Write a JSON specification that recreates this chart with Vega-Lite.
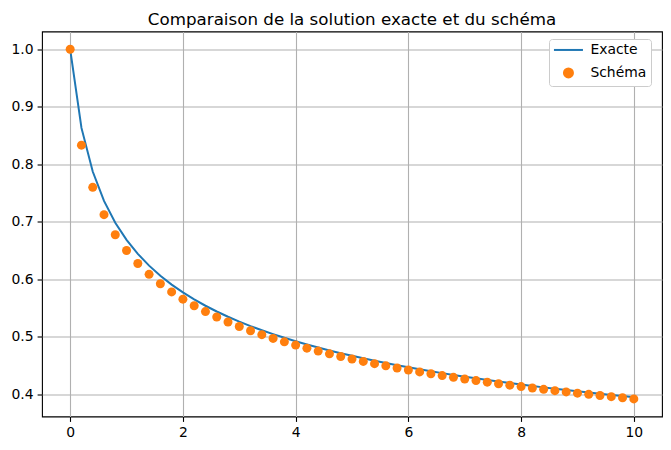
{
  "$schema": "https://vega.github.io/schema/vega-lite/v6.json",
  "width": 620,
  "height": 385,
  "autosize": "none",
  "padding": {"left": 42, "top": 31.5, "right": 9, "bottom": 33.5},
  "background": "white",
  "title": {
    "text": "Comparaison de la solution exacte et du schéma",
    "font": "DejaVu Sans",
    "fontSize": 16.7,
    "fontWeight": "normal",
    "color": "black",
    "anchor": "middle",
    "frame": "group",
    "baseline": "alphabetic",
    "offset": 8,
    "dy": 18
  },
  "config": {
    "view": {"stroke": "black", "strokeWidth": 1.1},
    "axis": {
      "labelFont": "DejaVu Sans",
      "labelFontSize": 13.9,
      "labelColor": "black",
      "labelPadding": 4,
      "domain": false,
      "tickColor": "black",
      "tickSize": 4.9,
      "tickWidth": 1.1,
      "grid": true,
      "gridColor": "#b0b0b0",
      "gridWidth": 1.1,
      "title": null
    }
  },
  "data": {
    "values": [
      {"t": 0.0, "y": 1.0, "serie": "Exacte"},
      {"t": 0.2, "y": 0.86334, "serie": "Exacte"},
      {"t": 0.4, "y": 0.787511, "serie": "Exacte"},
      {"t": 0.6, "y": 0.736428, "serie": "Exacte"},
      {"t": 0.8, "y": 0.698534, "serie": "Exacte"},
      {"t": 1.0, "y": 0.66874, "serie": "Exacte"},
      {"t": 1.2, "y": 0.644381, "serie": "Exacte"},
      {"t": 1.4, "y": 0.623899, "serie": "Exacte"},
      {"t": 1.6, "y": 0.606307, "serie": "Exacte"},
      {"t": 1.8, "y": 0.590946, "serie": "Exacte"},
      {"t": 2.0, "y": 0.57735, "serie": "Exacte"},
      {"t": 2.2, "y": 0.565189, "serie": "Exacte"},
      {"t": 2.4, "y": 0.554209, "serie": "Exacte"},
      {"t": 2.6, "y": 0.544219, "serie": "Exacte"},
      {"t": 2.8, "y": 0.53507, "serie": "Exacte"},
      {"t": 3.0, "y": 0.52664, "serie": "Exacte"},
      {"t": 3.2, "y": 0.518836, "serie": "Exacte"},
      {"t": 3.4, "y": 0.511578, "serie": "Exacte"},
      {"t": 3.6, "y": 0.504801, "serie": "Exacte"},
      {"t": 3.8, "y": 0.49845, "serie": "Exacte"},
      {"t": 4.0, "y": 0.492479, "serie": "Exacte"},
      {"t": 4.2, "y": 0.48685, "serie": "Exacte"},
      {"t": 4.4, "y": 0.481529, "serie": "Exacte"},
      {"t": 4.6, "y": 0.476486, "serie": "Exacte"},
      {"t": 4.8, "y": 0.471696, "serie": "Exacte"},
      {"t": 5.0, "y": 0.467138, "serie": "Exacte"},
      {"t": 5.2, "y": 0.462792, "serie": "Exacte"},
      {"t": 5.4, "y": 0.458641, "serie": "Exacte"},
      {"t": 5.6, "y": 0.45467, "serie": "Exacte"},
      {"t": 5.8, "y": 0.450865, "serie": "Exacte"},
      {"t": 6.0, "y": 0.447214, "serie": "Exacte"},
      {"t": 6.2, "y": 0.443706, "serie": "Exacte"},
      {"t": 6.4, "y": 0.440332, "serie": "Exacte"},
      {"t": 6.6, "y": 0.437082, "serie": "Exacte"},
      {"t": 6.8, "y": 0.433949, "serie": "Exacte"},
      {"t": 7.0, "y": 0.430924, "serie": "Exacte"},
      {"t": 7.2, "y": 0.428003, "serie": "Exacte"},
      {"t": 7.4, "y": 0.425177, "serie": "Exacte"},
      {"t": 7.6, "y": 0.422443, "serie": "Exacte"},
      {"t": 7.8, "y": 0.419794, "serie": "Exacte"},
      {"t": 8.0, "y": 0.417226, "serie": "Exacte"},
      {"t": 8.2, "y": 0.414735, "serie": "Exacte"},
      {"t": 8.4, "y": 0.412317, "serie": "Exacte"},
      {"t": 8.6, "y": 0.409967, "serie": "Exacte"},
      {"t": 8.8, "y": 0.407683, "serie": "Exacte"},
      {"t": 9.0, "y": 0.405461, "serie": "Exacte"},
      {"t": 9.2, "y": 0.403299, "serie": "Exacte"},
      {"t": 9.4, "y": 0.401193, "serie": "Exacte"},
      {"t": 9.6, "y": 0.399141, "serie": "Exacte"},
      {"t": 9.8, "y": 0.39714, "serie": "Exacte"},
      {"t": 10.0, "y": 0.395188, "serie": "Exacte"},
      {"t": 0.0, "y": 1.0, "serie": "Schéma"},
      {"t": 0.2, "y": 0.833333, "serie": "Schéma"},
      {"t": 0.4, "y": 0.760029, "serie": "Schéma"},
      {"t": 0.6, "y": 0.712485, "serie": "Schéma"},
      {"t": 0.8, "y": 0.677564, "serie": "Schéma"},
      {"t": 1.0, "y": 0.650158, "serie": "Schéma"},
      {"t": 1.2, "y": 0.627726, "serie": "Schéma"},
      {"t": 1.4, "y": 0.60882, "serie": "Schéma"},
      {"t": 1.6, "y": 0.592538, "serie": "Schéma"},
      {"t": 1.8, "y": 0.578281, "serie": "Schéma"},
      {"t": 2.0, "y": 0.56563, "serie": "Schéma"},
      {"t": 2.2, "y": 0.554283, "serie": "Schéma"},
      {"t": 2.4, "y": 0.544013, "serie": "Schéma"},
      {"t": 2.6, "y": 0.534648, "serie": "Schéma"},
      {"t": 2.8, "y": 0.526051, "serie": "Schéma"},
      {"t": 3.0, "y": 0.518116, "serie": "Schéma"},
      {"t": 3.2, "y": 0.510755, "serie": "Schéma"},
      {"t": 3.4, "y": 0.503897, "serie": "Schéma"},
      {"t": 3.6, "y": 0.497482, "serie": "Schéma"},
      {"t": 3.8, "y": 0.491462, "serie": "Schéma"},
      {"t": 4.0, "y": 0.485794, "serie": "Schéma"},
      {"t": 4.2, "y": 0.480443, "serie": "Schéma"},
      {"t": 4.4, "y": 0.475377, "serie": "Schéma"},
      {"t": 4.6, "y": 0.470571, "serie": "Schéma"},
      {"t": 4.8, "y": 0.466001, "serie": "Schéma"},
      {"t": 5.0, "y": 0.461647, "serie": "Schéma"},
      {"t": 5.2, "y": 0.457491, "serie": "Schéma"},
      {"t": 5.4, "y": 0.453518, "serie": "Schéma"},
      {"t": 5.6, "y": 0.449713, "serie": "Schéma"},
      {"t": 5.8, "y": 0.446064, "serie": "Schéma"},
      {"t": 6.0, "y": 0.44256, "serie": "Schéma"},
      {"t": 6.2, "y": 0.43919, "serie": "Schéma"},
      {"t": 6.4, "y": 0.435946, "serie": "Schéma"},
      {"t": 6.6, "y": 0.432819, "serie": "Schéma"},
      {"t": 6.8, "y": 0.429802, "serie": "Schéma"},
      {"t": 7.0, "y": 0.426889, "serie": "Schéma"},
      {"t": 7.2, "y": 0.424072, "serie": "Schéma"},
      {"t": 7.4, "y": 0.421347, "serie": "Schéma"},
      {"t": 7.6, "y": 0.418708, "serie": "Schéma"},
      {"t": 7.8, "y": 0.41615, "serie": "Schéma"},
      {"t": 8.0, "y": 0.413669, "serie": "Schéma"},
      {"t": 8.2, "y": 0.411261, "serie": "Schéma"},
      {"t": 8.4, "y": 0.408922, "serie": "Schéma"},
      {"t": 8.6, "y": 0.406648, "serie": "Schéma"},
      {"t": 8.8, "y": 0.404437, "serie": "Schéma"},
      {"t": 9.0, "y": 0.402285, "serie": "Schéma"},
      {"t": 9.2, "y": 0.400189, "serie": "Schéma"},
      {"t": 9.4, "y": 0.398147, "serie": "Schéma"},
      {"t": 9.6, "y": 0.396156, "serie": "Schéma"},
      {"t": 9.8, "y": 0.394214, "serie": "Schéma"},
      {"t": 10.0, "y": 0.392319, "serie": "Schéma"}
    ]
  },
  "encoding": {
    "x": {
      "field": "t",
      "type": "quantitative",
      "scale": {"domain": [-0.5, 10.5], "nice": false, "zero": false},
      "axis": {"values": [0, 2, 4, 6, 8, 10], "format": "d"}
    },
    "y": {
      "field": "y",
      "type": "quantitative",
      "scale": {"domain": [0.3617, 1.0309], "nice": false, "zero": false},
      "axis": {"values": [0.4, 0.5, 0.6, 0.7, 0.8, 0.9, 1.0], "format": ".1f"}
    },
    "color": {
      "field": "serie",
      "type": "nominal",
      "scale": {"domain": ["Exacte", "Schéma"], "range": ["#1f77b4", "#ff7f0e"]},
      "legend": {
        "title": null,
        "orient": "none",
        "legendX": 507,
        "legendY": 7.5,
        "padding": 4,
        "fillColor": "white",
        "strokeColor": "#cccccc",
        "cornerRadius": 3,
        "labelFont": "DejaVu Sans",
        "labelFontSize": 13.9,
        "labelColor": "black",
        "symbolSize": 196,
        "symbolOffset": 8.5,
        "labelOffset": 15,
        "rowPadding": 7,
        "encode": {
          "symbols": {
            "update": {
              "shape": {"signal": "datum.value === 'Exacte' ? 'stroke' : 'circle'"},
              "size": {"signal": "datum.value === 'Exacte' ? 841 : 81"},
              "fill": {"signal": "datum.value === 'Exacte' ? 'transparent' : '#ff7f0e'"},
              "stroke": {"signal": "datum.value === 'Exacte' ? '#1f77b4' : 'transparent'"},
              "strokeWidth": {"value": 2},
              "opacity": {"value": 1}
            }
          }
        }
      }
    }
  },
  "layer": [
    {
      "transform": [{"filter": "datum.serie === 'Exacte'"}],
      "mark": {"type": "line", "strokeWidth": 2}
    },
    {
      "transform": [{"filter": "datum.serie === 'Schéma'"}],
      "mark": {"type": "circle", "size": 81, "opacity": 1}
    }
  ]
}
